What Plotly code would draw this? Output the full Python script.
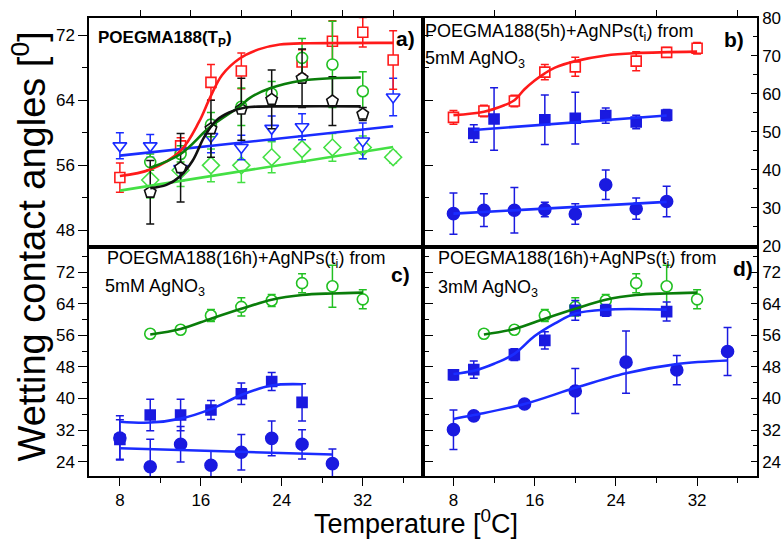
import plotly.graph_objects as go

# ---------------- data ----------------
# Panel a) POEGMA188(Tp)
a_red_T = [8, 14, 17, 20, 26, 29, 32, 35]
a_red_v = [54.5, 58.4, 66.2, 67.6, 68.7, 71.25, 72.35, 68.95]
a_red_e = [1.8, 1.0, 2.2, 2.2, 1.5, 2.5, 1.8, 3.6]
a_red_fit_T = [8, 11, 14, 15.8, 16.9, 18.1, 19.8, 21.7, 23.8, 26.7, 35]
a_red_fit_v = [54.7, 55.5, 57.8, 61.3, 64.3, 67.1, 69.1, 70.25, 70.85, 71.0, 71.05]

green_T = [11, 14, 17, 20, 23, 26, 29, 32]
green_v = [56.4, 57.4, 61.0, 63.2, 64.8, 69.2, 68.4, 65.1]
green_e = [1.0, 1.0, 1.5, 2.3, 1.5, 2.4, 5.3, 2.4]
a_green_fit_T = [11, 14, 16.9, 19.9, 20.85, 22.9, 25.9, 28.8, 31.8]
a_green_fit_v = [55.7, 57.4, 60.7, 63.3, 64.3, 65.5, 66.4, 66.7, 66.8]

a_black_T = [11, 14, 17, 20, 23, 26, 29, 32]
a_black_v = [52.7, 55.7, 60.5, 62.9, 64.1, 66.7, 63.9, 62.3]
a_black_e = [3.9, 4.2, 3.5, 3.8, 3.6, 3.6, 3.0, 0.8]
a_black_fit_T = [11, 12.6, 13.9, 15.2, 16.3, 17.5, 18.8, 20.4, 25, 31.8]
a_black_fit_v = [53.2, 53.6, 54.6, 56.6, 59.4, 61.5, 62.5, 63.1, 63.25, 63.25]

a_tri_T = [8, 11, 14, 17, 20, 23, 26, 32, 35]
a_tri_v = [58.4, 58.4, 55.6, 59.55, 58.2, 60.55, 60.75, 59.0, 64.4]
a_tri_e = [1.6, 1.4, 1.5, 2.0, 1.5, 1.5, 1.6, 2.2, 2.3]
a_tri_fit_T = [8, 35]
a_tri_fit_v = [57.2, 60.8]

a_dia_T = [11, 14, 17, 20, 23, 26, 29, 32, 35]
a_dia_v = [54.2, 55.4, 56.0, 56.0, 57.0, 58.0, 58.2, 58.2, 57.0]
a_dia_e = [2.2, 2.0, 2.0, 2.1, 1.9, 1.6, 1.7, 1.4, 0.7]
a_dia_fit_T = [8, 35]
a_dia_fit_v = [52.9, 58.25]

# Panel b) POEGMA188(5h)+AgNPs(ti) from 5mM AgNO3
b_red_T = [8, 11, 14, 17, 20, 26, 29, 32]
b_red_v = [53.8, 55.5, 58.1, 65.7, 67.1, 68.6, 70.9, 72.0]
b_red_e = [1.8, 1.5, 1.5, 2.0, 2.5, 2.5, 1.3, 1.5]
b_red_fit_T = [8, 11, 13, 14, 15, 16, 17, 18, 20, 23, 26, 32]
b_red_fit_v = [54.4, 55.3, 57.0, 58.3, 61.2, 63.5, 65.4, 66.9, 68.6, 70.1, 70.7, 71.1]

b_sq_T = [10, 12, 17, 20, 23, 26, 29]
b_sq_v = [49.6, 53.4, 53.2, 53.6, 54.3, 52.6, 54.4]
b_sq_e = [2.3, 8.2, 6.5, 6.8, 2.0, 1.8, 1.5]
b_sq_fit_T = [10, 29]
b_sq_fit_v = [50.5, 54.3]

b_ci_T = [8, 11, 14, 17, 20, 23, 26, 29]
b_ci_v = [28.5, 29.4, 29.4, 29.6, 28.4, 36.1, 29.8, 31.7]
b_ci_e = [5.4, 4.3, 6.0, 1.9, 2.7, 3.9, 2.8, 4.0]
b_ci_fit_T = [8, 29]
b_ci_fit_v = [28.5, 31.6]

# Panel c) POEGMA188(16h)+AgNPs(ti) from 5mM AgNO3
cd_green_fit_T = [11, 14, 17, 20, 23, 26, 29, 32]
cd_green_fit_v = [56.2, 57.6, 60.2, 62.7, 65.0, 66.2, 66.6, 66.8]

c_sq_T = [8, 11, 14, 17, 20, 23, 26]
c_sq_v = [29.6, 35.8, 35.8, 37.1, 41.2, 44.3, 39.0]
c_sq_e = [5.0, 4.0, 4.0, 2.4, 2.7, 2.3, 4.7]
c_sq_fit_T = [8, 11, 14, 17, 20, 23, 26]
c_sq_fit_v = [34.1, 33.9, 34.9, 37.3, 40.9, 43.3, 43.6]

c_ci_T = [8, 11, 14, 17, 20, 23, 26, 29]
c_ci_v = [30.0, 22.7, 28.4, 23.1, 26.4, 29.9, 28.4, 23.5]
c_ci_e = [5.6, 7.0, 4.5, 3.6, 4.5, 4.4, 3.7, 3.7]
c_ci_fit_T = [8, 29]
c_ci_fit_v = [27.4, 25.8]

# Panel d) POEGMA188(16h)+AgNPs(ti) from 3mM AgNO3
d_sq_T = [8, 10, 14, 17, 20, 23, 29]
d_sq_v = [46.0, 47.3, 51.1, 54.7, 62.3, 62.3, 62.0]
d_sq_e = [1.3, 2.2, 1.5, 2.2, 2.5, 1.5, 2.4]
d_sq_fit_T = [8, 10, 12, 14, 16, 18, 20, 23, 29]
d_sq_fit_v = [46.2, 47.0, 48.8, 51.3, 55.8, 59.0, 61.5, 62.5, 62.5]

d_ci_T = [8, 10, 15, 20, 25, 30, 35]
d_ci_v = [32.1, 35.6, 38.6, 41.9, 49.2, 47.2, 51.9]
d_ci_e = [5.0, 0.8, 0.8, 5.7, 7.9, 3.7, 6.1]
d_ci_fit_T = [8, 10, 15, 20, 25, 30, 35]
d_ci_fit_v = [34.8, 35.8, 38.6, 42.7, 46.4, 48.7, 49.6]

# axis ticks
x_major = [8, 16, 24, 32]
x_minor = [12, 20, 28, 36]
a_top_ticks = [10, 15, 20, 25, 30, 35]
b_top_ticks = [12, 20, 28, 36]

# ---------------- styling / layout ----------------
FONT = "Liberation Sans, Arial, sans-serif"
W, H = 783, 549
XL, XM, XR = 89, 422.5, 757
YT, YM, YB = 9, 246, 483
X_RANGE = [4.95, 37.9]

RED = "#ff1a1a"
GREEN = "#22c022"
DGREEN = "#0a7d0a"
BLACK = "#111111"
BLUE = "#1a2cff"
LGREEN = "#44e044"
FBLUE = "#1a1ae0"


def px(x):
    return x / W


def py(y):
    return 1 - y / H


fig = go.Figure()


def pts(T, v, e, sym, color, size, ax, fill="white"):
    fig.add_trace(go.Scatter(
        x=T, y=v, mode="markers", xaxis=ax[0], yaxis=ax[1],
        marker=dict(symbol=sym, size=size, color=fill,
                    line=dict(color=color, width=1.6)),
        error_y=dict(type="data", array=e, color=color, thickness=1.5, width=4),
        showlegend=False, hoverinfo="skip"))


def fit(T, v, color, ax, width=2.6):
    fig.add_trace(go.Scatter(
        x=T, y=v, mode="lines", xaxis=ax[0], yaxis=ax[1],
        line=dict(color=color, width=width, shape="spline", smoothing=1.0),
        showlegend=False, hoverinfo="skip"))


A = ("x", "y")
B = ("x2", "y2")
C = ("x3", "y3")
D = ("x4", "y4")

# panel a
pts(a_dia_T, a_dia_v, a_dia_e, "diamond", LGREEN, 13, A)
pts(a_tri_T, a_tri_v, a_tri_e, "triangle-down", BLUE, 12, A)
pts(a_red_T, a_red_v, a_red_e, "square", RED, 10, A)
pts(green_T, green_v, green_e, "circle", GREEN, 11, A)
pts(a_black_T, a_black_v, a_black_e, "pentagon", BLACK, 12, A)
fit(a_dia_fit_T, a_dia_fit_v, LGREEN, A)
fit(a_tri_fit_T, a_tri_fit_v, BLUE, A)
fit(a_red_fit_T, a_red_fit_v, RED, A)
fit(a_green_fit_T, a_green_fit_v, DGREEN, A)
fit(a_black_fit_T, a_black_fit_v, BLACK, A)

# panel b
pts(b_red_T, b_red_v, b_red_e, "square", RED, 10, B)
pts(b_sq_T, b_sq_v, b_sq_e, "square", FBLUE, 10, B, fill=FBLUE)
pts(b_ci_T, b_ci_v, b_ci_e, "circle", FBLUE, 12, B, fill=FBLUE)
fit(b_red_fit_T, b_red_fit_v, RED, B)
fit(b_sq_fit_T, b_sq_fit_v, BLUE, B)
fit(b_ci_fit_T, b_ci_fit_v, BLUE, B)

# panel c
pts(green_T, green_v, green_e, "circle", GREEN, 11, C)
pts(c_sq_T, c_sq_v, c_sq_e, "square", FBLUE, 10, C, fill=FBLUE)
pts(c_ci_T, c_ci_v, c_ci_e, "circle", FBLUE, 12, C, fill=FBLUE)
fit(cd_green_fit_T, cd_green_fit_v, DGREEN, C)
fit(c_sq_fit_T, c_sq_fit_v, BLUE, C)
fit(c_ci_fit_T, c_ci_fit_v, BLUE, C)

# panel d
pts(green_T, green_v, green_e, "circle", GREEN, 11, D)
pts(d_sq_T, d_sq_v, d_sq_e, "square", FBLUE, 10, D, fill=FBLUE)
pts(d_ci_T, d_ci_v, d_ci_e, "circle", FBLUE, 12, D, fill=FBLUE)
fit(cd_green_fit_T, cd_green_fit_v, DGREEN, D)
fit(d_sq_fit_T, d_sq_fit_v, BLUE, D)
fit(d_ci_fit_T, d_ci_fit_v, BLUE, D)

common = dict(showline=True, linecolor="black", linewidth=1.5,
              showgrid=False, zeroline=False, ticks="outside",
              tickcolor="black", tickwidth=1.4,
              tickfont=dict(family=FONT, size=17, color="black"))

xa_top = dict(common, range=X_RANGE, side="top", mirror=True,
              showticklabels=False, tickmode="array", ticklen=6)
xa_bot = dict(common, range=X_RANGE, side="bottom", mirror=True,
              tickmode="array", tickvals=x_major, ticklen=8,
              minor=dict(tickmode="array", tickvals=x_minor,
                         ticks="outside", ticklen=5, tickcolor="black"))

fig.update_layout(
    width=W, height=H,
    margin=dict(l=0, r=0, t=0, b=0),
    paper_bgcolor="white", plot_bgcolor="white",
    font=dict(family=FONT, color="black"),
    xaxis=dict(xa_top, domain=[px(XL), px(XM)], anchor="y", tickvals=a_top_ticks),
    xaxis2=dict(xa_top, domain=[px(XM), px(XR)], anchor="y2", tickvals=b_top_ticks),
    xaxis3=dict(xa_bot, domain=[px(XL), px(XM)], anchor="y3"),
    xaxis4=dict(xa_bot, domain=[px(XM), px(XR)], anchor="y4"),
    yaxis=dict(common, domain=[py(YM), py(YT)], anchor="x", range=[45.98, 74.14],
               side="left", mirror="ticks", tick0=0, dtick=8, ticklen=9,
               minor=dict(dtick=4, ticks="outside", ticklen=5, tickcolor="black")),
    yaxis2=dict(common, domain=[py(YM), py(YT)], anchor="x2", range=[19.75, 80.02],
                side="right", mirror=True, tick0=0, dtick=10, ticklen=6,
                ticks="inside",
                minor=dict(dtick=5, ticks="inside", ticklen=4, tickcolor="black")),
    yaxis3=dict(common, domain=[py(YB), py(YM)], anchor="x3", range=[20.33, 78.37],
                side="left", mirror="ticks", tick0=0, dtick=8, ticklen=9,
                minor=dict(dtick=4, ticks="outside", ticklen=5, tickcolor="black")),
    yaxis4=dict(common, domain=[py(YB), py(YM)], anchor="x4", range=[20.33, 78.37],
                side="right", mirror=True, tick0=0, dtick=8, ticklen=6,
                ticks="inside",
                minor=dict(dtick=4, ticks="inside", ticklen=4, tickcolor="black")),
)


def ann(text, x, y, size, xanchor="left", yanchor="middle", angle=0):
    fig.add_annotation(text=text, x=px(x), y=py(y), xref="paper", yref="paper",
                       xanchor=xanchor, yanchor=yanchor, showarrow=False,
                       textangle=angle, borderpad=0,
                       font=dict(family=FONT, size=size, color="black"))


# panel texts
ann("<b>POEGMA188(T<sub>P</sub>)</b>", 97, 31, 17)
ann("<b>a)</b>", 395, 31, 21)
ann("POEGMA188(5h)+AgNPs(t<sub>i</sub>) from", 424, 24, 18)
ann("5mM AgNO<sub>3</sub>", 424, 52, 18)
ann("<b>b)</b>", 723, 32, 21)
ann("POEGMA188(16h)+AgNPs(t<sub>i</sub>) from", 106, 259, 18)
ann("5mM AgNO<sub>3</sub>", 104, 288, 18)
ann("<b>c)</b>", 390, 274, 21)
ann("POEGMA188(16h)+AgNPs(t<sub>i</sub>) from", 437, 259, 18)
ann("3mM AgNO<sub>3</sub>", 437, 289, 18)
ann("<b>d)</b>", 732, 268, 21)

# axis titles
ann("Wetting contact angles [<sup>0</sup>]", 29, 245.5, 38,
    xanchor="center", yanchor="middle", angle=-90)
ann("Temperature [<sup>0</sup>C]", 416, 530, 27, xanchor="center", yanchor="middle")

fig.write_html("out.html", config={"displayModeBar": False},
               post_script="document.body.style.margin='0';")
